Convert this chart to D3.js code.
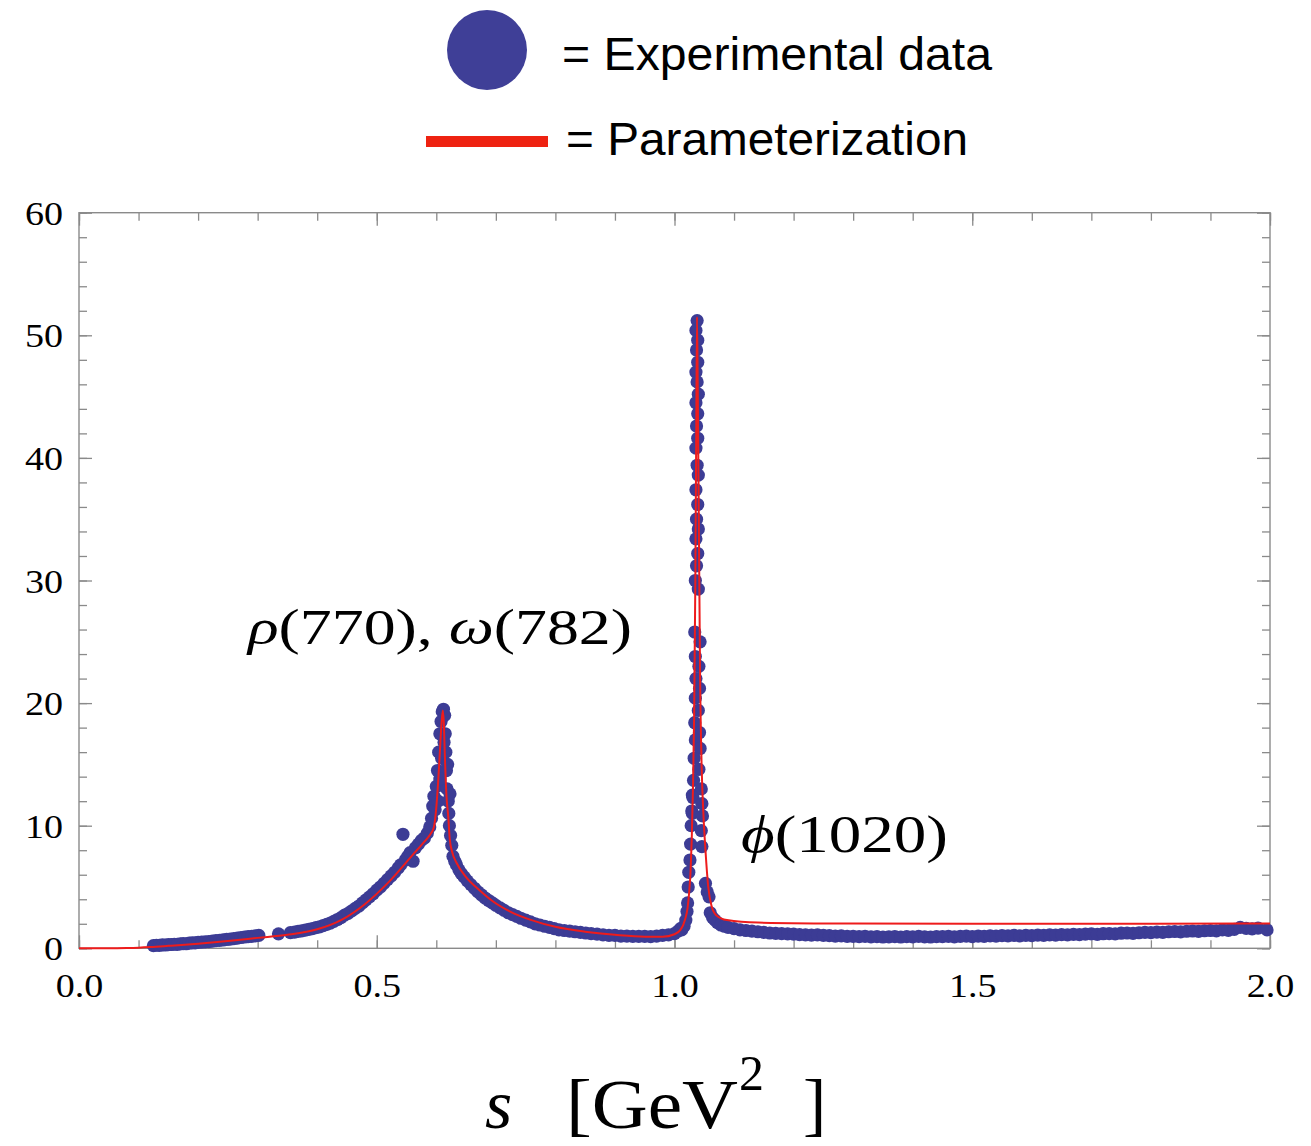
<!DOCTYPE html>
<html lang="en">
<head>
  <meta charset="UTF-8" />
  <title>Spectral function with rho, omega and phi peaks</title>
  <style>
    body { margin: 0; background: #fff; }
    svg { display: block; }
    .serif { font-family: "Liberation Serif", "Times New Roman", serif; }
    .sans { font-family: "Liberation Sans", Arial, Helvetica, sans-serif; }
  </style>
</head>
<body>
  <svg id="chart" width="1311" height="1146"></svg>

  <script src="https://d3js.org/d3.v7.min.js"></script>
  <script>
    // experimental points [s in GeV^2, value]
    const lowPoints = [
      [0.125,0.22],[0.130,0.25],[0.135,0.24],[0.140,0.28],[0.145,0.27],[0.150,0.30],
      [0.155,0.31],[0.160,0.33],[0.165,0.32],[0.170,0.36],[0.175,0.38],[0.180,0.37],
      [0.185,0.42],[0.190,0.44],[0.195,0.45],[0.200,0.48],[0.206,0.50],[0.212,0.53],
      [0.218,0.55],[0.224,0.58],[0.230,0.62],[0.236,0.64],[0.242,0.68],[0.248,0.72],
      [0.254,0.75],[0.260,0.79],[0.266,0.83],[0.272,0.88],[0.278,0.92],[0.284,0.95],
      [0.290,0.98],[0.296,1.02],[0.302,1.05],[0.335,1.18],[0.355,1.28],[0.362,1.32],
      [0.368,1.38],[0.374,1.42],[0.380,1.48],[0.386,1.55],[0.392,1.6],[0.398,1.68],
      [0.404,1.75],[0.410,1.85],[0.416,1.95],[0.422,2.05],[0.428,2.2],[0.434,2.35],
      [0.440,2.5],[0.446,2.7],[0.452,2.85],[0.458,3.05],[0.464,3.25],[0.470,3.45],
      [0.476,3.7],[0.482,3.95],[0.488,4.2],[0.494,4.45],[0.500,4.75],[0.506,5.0],
      [0.512,5.3],[0.518,5.6],[0.524,5.9],[0.530,6.2],[0.536,6.55],[0.540,6.8],
      [0.544,9.3],[0.548,7.2],[0.552,7.5],[0.556,7.8],[0.561,7.1],[0.565,8.2],
      [0.570,8.5],[0.575,8.8],[0.580,9.0],[0.585,9.4],[0.589,9.9],[0.592,10.6],
      [0.594,11.6],[0.596,12.4],[0.598,11.3],[0.600,13.2],[0.602,14.5],[0.604,16.0],
      [0.606,17.5],[0.608,18.5],[0.610,19.3],[0.612,19.5],[0.614,19.0],[0.615,17.5],
      [0.616,16.0],[0.617,14.5],[0.618,13.0],[0.620,12.0],[0.621,11.0],[0.622,10.0],
      [0.603,12.0],[0.606,13.8],[0.609,15.5],[0.613,16.8],[0.619,15.0],[0.623,12.6],
      [0.624,9.2],[0.626,8.4],[0.628,7.5],[0.631,7.1],[0.634,6.8],[0.638,6.4],
      [0.642,6.1],[0.647,5.8],[0.652,5.5],[0.658,5.2],[0.664,4.9],[0.670,4.6],
      [0.676,4.35],[0.682,4.1],[0.688,3.9],[0.694,3.7],[0.700,3.5],[0.707,3.3],
      [0.714,3.1],[0.721,2.9],[0.728,2.75],[0.735,2.6],[0.742,2.45],[0.750,2.3],
      [0.758,2.15],[0.766,2.0],[0.774,1.9],[0.782,1.8],[0.790,1.7],[0.798,1.6],
      [0.806,1.5],[0.815,1.45],[0.824,1.4],[0.833,1.35],[0.842,1.3],[0.851,1.25],
      [0.860,1.2],[0.870,1.15],[0.880,1.1],[0.890,1.05],[0.900,1.05],[0.910,1.0],
      [0.920,1.0],[0.930,0.98],[0.940,0.97],[0.950,0.98],[0.960,0.95],[0.970,1.0],
      [0.980,1.05],[0.990,1.1],[1.000,1.2],[1.006,1.4],[1.010,1.6]
    ];

    const phiPoints = [
      [1.012,1.5],[1.016,1.8],[1.019,2.3],[1.021,3.0],[1.022,3.7],[1.023,5.0],
      [1.024,6.2],[1.026,7.2],[1.027,8.5],[1.028,10.0],[1.029,11.2],[1.030,12.5],
      [1.038,51.2],[1.036,50.4],[1.039,49.6],[1.037,48.8],[1.039,47.8],[1.036,47.0],
      [1.038,46.2],[1.040,45.2],[1.036,44.5],[1.039,43.6],[1.037,42.6],[1.039,41.6],
      [1.036,40.8],[1.038,39.4],[1.040,38.6],[1.036,37.4],[1.039,36.2],[1.037,35.0],
      [1.040,34.2],[1.036,33.4],[1.039,32.2],[1.037,31.2],[1.035,30.0],[1.040,29.3],
      [1.034,25.8],[1.043,25.0],[1.035,23.8],[1.041,23.0],[1.036,22.0],[1.042,21.2],
      [1.035,20.4],[1.040,19.4],[1.034,18.4],[1.042,17.6],[1.035,17.0],[1.043,16.3],
      [1.033,15.5],[1.041,14.6],[1.032,13.7],[1.045,13.0],[1.031,12.3],[1.046,11.8],
      [1.030,11.0],[1.047,10.8],[1.045,9.6],[1.046,8.3],
      [1.052,5.3],[1.055,4.6],[1.058,4.2],[1.060,2.9],[1.064,2.5],[1.068,2.3],
      [1.072,2.1],[1.078,1.9],[1.084,1.8],[1.090,1.7],[1.100,1.6],[1.110,1.5],
      [1.120,1.45],[1.130,1.4],[1.140,1.35],[1.150,1.3]
    ];

    const tailPoints = [
      [1.16,1.25],[1.17,1.22],[1.18,1.2],[1.19,1.18],[1.20,1.15],[1.21,1.12],
      [1.22,1.1],[1.23,1.08],[1.24,1.1],[1.25,1.05],[1.26,1.03],[1.27,1.0],
      [1.28,1.02],[1.29,0.98],[1.30,0.97],[1.31,0.95],[1.32,0.98],[1.33,0.93],
      [1.34,0.95],[1.35,0.92],[1.36,0.94],[1.37,0.96],[1.38,0.92],[1.39,0.95],
      [1.40,0.93],[1.41,0.97],[1.42,0.94],[1.43,0.92],[1.44,0.96],[1.45,0.95],
      [1.46,0.98],[1.47,0.94],[1.48,0.97],[1.49,0.99],[1.50,0.96],[1.51,1.0],
      [1.52,0.98],[1.53,1.02],[1.54,0.99],[1.55,1.03],[1.56,1.01],[1.57,1.05],
      [1.58,1.02],[1.59,1.06],[1.60,1.04],[1.61,1.08],[1.62,1.05],[1.63,1.1],
      [1.64,1.07],[1.65,1.12],[1.66,1.1],[1.67,1.13],[1.68,1.11],[1.69,1.15],
      [1.70,1.17],[1.71,1.14],[1.72,1.19],[1.73,1.2],[1.74,1.18],[1.75,1.23],
      [1.76,1.25],[1.77,1.22],[1.78,1.27],[1.79,1.3],[1.80,1.28],[1.81,1.32],
      [1.82,1.3],[1.83,1.35],[1.84,1.37],[1.85,1.34],[1.86,1.39],[1.87,1.41],
      [1.88,1.38],[1.89,1.43],[1.90,1.45],[1.91,1.42],[1.92,1.5],[1.93,1.47],
      [1.94,1.55],[1.95,1.7],[1.96,1.62],[1.97,1.58],[1.98,1.65],[1.995,1.5]
    ];

    // parameterization curve [s, value]
    const paramCurve = [
      [0,0],[0.05,0],[0.08,0.02],[0.10,0.05],[0.12,0.1],[0.15,0.2],[0.20,0.38],
      [0.25,0.6],[0.30,0.85],[0.35,1.1],[0.40,1.55],[0.44,2.3],[0.48,3.6],[0.52,5.4],
      [0.56,7.6],[0.58,8.7],[0.59,9.3],[0.596,9.9],[0.600,11.5],[0.603,13.5],
      [0.606,16],[0.609,18.5],[0.611,19.4],[0.6125,18.5],[0.6145,15.5],[0.617,12.5],
      [0.620,10.8],[0.6226,8.9],[0.627,7.8],[0.6337,7.0],[0.65,5.8],[0.6735,4.7],
      [0.696,3.8],[0.724,3.0],[0.76,2.3],[0.80,1.75],[0.85,1.35],[0.90,1.1],
      [0.95,0.95],[0.98,0.95],[1.000,1.15],[1.010,1.5],[1.018,2.4],[1.022,3.3],
      [1.025,4.8],[1.027,6.3],[1.029,9.0],[1.031,13],[1.033,19],[1.035,30],
      [1.0365,42],[1.0378,51.5],[1.039,46],[1.041,34],[1.043,22],[1.0455,15],
      [1.0485,11],[1.052,8.0],[1.0567,5.0],[1.0625,3.4],[1.07,2.7],[1.088,2.3],
      [1.14,2.1],[1.3,2.02],[1.5,2.0],[1.8,2.0],[2.0,2.02]
    ];

    const xMajorTicks = [0, 0.5, 1.0, 1.5, 2.0];
    const yMajorTicks = [0, 10, 20, 30, 40, 50, 60];
    const xMinorTicks = [0,0.1,0.2,0.3,0.4,0.5,0.6,0.7,0.8,0.9,1.0,1.1,1.2,1.3,1.4,1.5,1.6,1.7,1.8,1.9,2.0];
    const yMinorTicks = [0,2,4,6,8,10,12,14,16,18,20,22,24,26,28,30,32,34,36,38,40,42,44,46,48,50,52,54,56,58,60];

    const svg = d3.select("#chart");
    const plotLeft = 79, plotRight = 1270, plotTop = 212.7, plotBottom = 948.3;

    const x = d3.scaleLinear().domain([0, 2]).range([plotLeft, plotRight]);
    const y = d3.scaleLinear().domain([0, 60]).range([plotBottom, plotTop]);
    const frameColor = "#8a8a8a";

    // minor + major ticks on all four sides, pointing inward
    const axes = [
      [d3.axisBottom, x, xMinorTicks, -8, plotBottom, "x"], [d3.axisBottom, x, xMajorTicks, -13, plotBottom, "x"],
      [d3.axisTop, x, xMinorTicks, -8, plotTop, "x"], [d3.axisTop, x, xMajorTicks, -13, plotTop, "x"],
      [d3.axisLeft, y, yMinorTicks, -8, plotLeft, "y"], [d3.axisLeft, y, yMajorTicks, -13, plotLeft, "y"],
      [d3.axisRight, y, yMinorTicks, -8, plotRight, "y"], [d3.axisRight, y, yMajorTicks, -13, plotRight, "y"]
    ];
    axes.forEach(([ax, sc, vals, size, pos, dim]) => {
      const g = svg.append("g")
        .attr("transform", dim === "x" ? `translate(0,${pos})` : `translate(${pos},0)`)
        .call(ax(sc).tickValues(vals).tickSize(size).tickSizeOuter(0).tickFormat(""));
      g.select(".domain").remove();
      g.selectAll(".tick line").attr("stroke", frameColor).attr("stroke-width", 1.3);
      g.selectAll("text").remove();
    });

    svg.append("rect")
      .attr("x", plotLeft).attr("y", plotTop)
      .attr("width", plotRight - plotLeft).attr("height", plotBottom - plotTop)
      .attr("fill", "none").attr("stroke", frameColor).attr("stroke-width", 1.4);

    // tick labels
    const xLab = svg.append("g").attr("transform", `translate(0,${plotBottom})`)
      .call(d3.axisBottom(x).tickValues(xMajorTicks).tickSize(0).tickPadding(25).tickFormat(d3.format(".1f")));
    const yLab = svg.append("g").attr("transform", `translate(${plotLeft},0)`)
      .call(d3.axisLeft(y).tickValues(yMajorTicks).tickSize(0).tickPadding(16).tickFormat(d3.format("d")));
    [xLab, yLab].forEach(g => {
      g.select(".domain").remove();
      g.selectAll("text")
        .attr("class", "serif")
        .attr("font-size", 34)
        .attr("fill", "#000");
      g.selectAll("text").attr("textLength", function () { return this.getComputedTextLength() * 1.12; })
        .attr("lengthAdjust", "spacingAndGlyphs");
    });
    yLab.selectAll("text").attr("dy", "0.34em");

    // experimental data
    const allPoints = lowPoints.concat(phiPoints, tailPoints);
    svg.append("g").selectAll("circle")
      .data(allPoints)
      .join("circle")
      .attr("cx", d => x(d[0]))
      .attr("cy", d => y(d[1]))
      .attr("r", 6.6)
      .attr("fill", "#3c3c95");

    // parameterization
    svg.append("path")
      .datum(paramCurve)
      .attr("fill", "none")
      .attr("stroke", "#ee1c1c")
      .attr("stroke-width", 2)
      .attr("d", d3.line().x(d => x(d[0])).y(d => y(d[1])).curve(d3.curveMonotoneX));

    // resonance labels
    const rhoLabel = svg.append("text").attr("class", "serif")
      .attr("x", 248).attr("y", 644).attr("font-size", 50).attr("fill", "#000")
      .attr("textLength", 384).attr("lengthAdjust", "spacingAndGlyphs");
    rhoLabel.append("tspan").attr("font-style", "italic").text("ρ");
    rhoLabel.append("tspan").text("(770), ");
    rhoLabel.append("tspan").attr("font-style", "italic").text("ω");
    rhoLabel.append("tspan").text("(782)");

    const phiLabel = svg.append("text").attr("class", "serif")
      .attr("x", 741).attr("y", 852).attr("font-size", 52).attr("fill", "#000")
      .attr("textLength", 207).attr("lengthAdjust", "spacingAndGlyphs");
    phiLabel.append("tspan").attr("font-style", "italic").text("ϕ");
    phiLabel.append("tspan").text("(1020)");

    // x-axis title
    const title = svg.append("g").attr("class", "serif").attr("fill", "#000");
    title.append("text").attr("x", 485).attr("y", 1128).attr("font-size", 70)
      .attr("font-style", "italic").text("s");
    title.append("text").attr("x", 566).attr("y", 1128).attr("font-size", 70)
      .attr("textLength", 172).attr("lengthAdjust", "spacingAndGlyphs").text("[GeV");
    title.append("text").attr("x", 739).attr("y", 1090).attr("font-size", 50).text("2");
    title.append("text").attr("x", 803).attr("y", 1128).attr("font-size", 70).text("]");

    // legend
    const legend = svg.append("g").attr("class", "sans").attr("fill", "#000");
    legend.append("circle").attr("cx", 487).attr("cy", 50).attr("r", 40).attr("fill", "#3f3f97");
    legend.append("text").attr("x", 562).attr("y", 70).attr("font-size", 46)
      .attr("textLength", 430).attr("lengthAdjust", "spacingAndGlyphs").text("= Experimental data");
    legend.append("line").attr("x1", 426).attr("x2", 548).attr("y1", 141.5).attr("y2", 141.5)
      .attr("stroke", "#ee2211").attr("stroke-width", 11);
    legend.append("text").attr("x", 566).attr("y", 155).attr("font-size", 46)
      .attr("textLength", 402).attr("lengthAdjust", "spacingAndGlyphs").text("= Parameterization");
  </script>
</body>
</html>
